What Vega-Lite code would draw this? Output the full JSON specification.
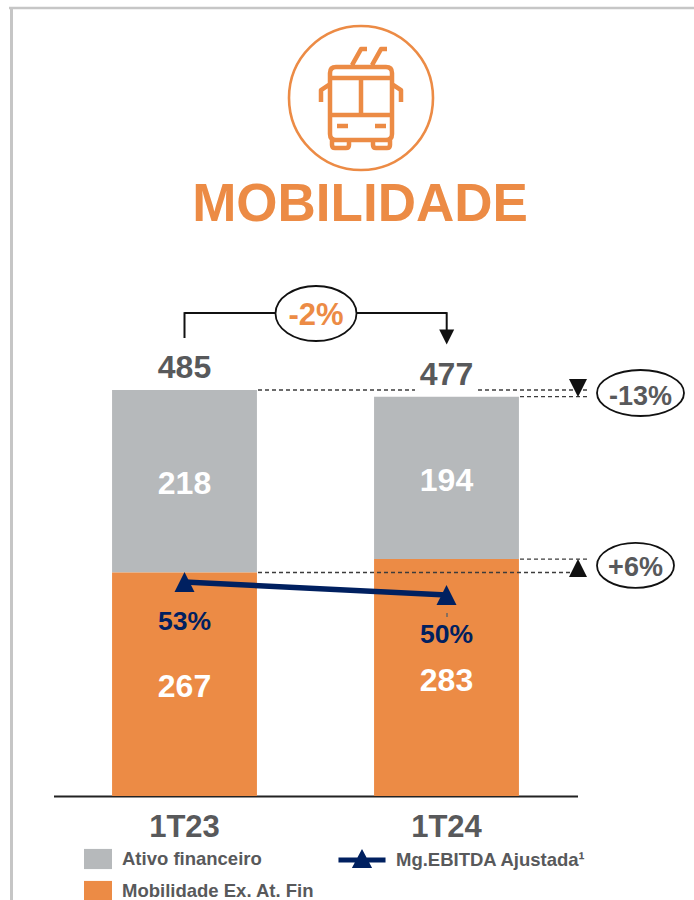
{
"$schema":"https://vega.github.io/schema/vega-lite/v6.json",
"width":694,"height":796,
"autosize":{"type":"none"},
"padding":{"left":0,"top":0,"right":0,"bottom":104},
"background":"white",
"config":{"view":{"stroke":null},"font":"Liberation Sans"},
"title":{"text":"MOBILIDADE","orient":"top","anchor":"middle","frame":"group","offset":0,"baseline":"alphabetic","dx":13,"dy":274,"font":"Liberation Sans","fontSize":53,"fontWeight":"bold","color":"#ec8b45"},
"datasets":{
"componentes":[
{"periodo":"1T23","componente":"Ativo financeiro","valor":218},
{"periodo":"1T23","componente":"Mobilidade Ex. At. Fin","valor":267},
{"periodo":"1T24","componente":"Ativo financeiro","valor":194},
{"periodo":"1T24","componente":"Mobilidade Ex. At. Fin","valor":283}],
"totais":[{"periodo":"1T23","total":485},{"periodo":"1T24","total":477}],
"margem":[{"periodo":"1T23","serie":"Mg.EBITDA Ajustada¹","margem":53,"rotulo":"53%"},{"periodo":"1T24","serie":"Mg.EBITDA Ajustada¹","margem":50,"rotulo":"50%"}]
},
"resolve":{"scale":{"x":"independent","y":"independent"}},
"layer":[
{"layer":[
{"data":{"name":"componentes"},"mark":{"type":"bar"},
"encoding":{
"x":{"field":"periodo","type":"nominal","title":null,"scale":{"domain":["1T23","1T24"],"range":[53.5,577.5],"paddingInner":0.447,"paddingOuter":0.2235},"axis":{"labelAngle":0,"domain":true,"domainColor":"#222222","domainWidth":2,"ticks":false,"labelPadding":16.5,"labelFont":"Liberation Sans","labelFontSize":31,"labelFontWeight":"bold","labelColor":"#58595b","grid":false}},
"y":{"field":"valor","type":"quantitative","stack":"zero","title":null,"scale":{"domain":[0,950.9],"nice":false},"axis":null},
"color":{"field":"componente","type":"nominal","scale":{"domain":["Ativo financeiro","Mobilidade Ex. At. Fin"],"range":["#b6b9bb","#ec8b45"]},
"legend":{"orient":"none","legendX":84,"legendY":845,"title":null,"symbolType":"M-1,-0.72H1V0.72H-1Z","symbolSize":784,"symbolStrokeWidth":0,"rowPadding":7,"labelOffset":10,"labelFont":"Liberation Sans","labelFontSize":18.5,"labelFontWeight":"bold","labelColor":"#58595b","labelLimit":400}}
}},
{"data":{"name":"componentes"},"mark":{"type":"text","font":"Liberation Sans","fontSize":32,"fontWeight":"bold","color":"white","baseline":"middle","dy":3},
"encoding":{
"x":{"field":"periodo","type":"nominal","title":null},
"y":{"field":"valor","type":"quantitative","stack":"zero","bandPosition":0.5,"scale":{"domain":[0,950.9],"nice":false},"axis":null},
"detail":{"field":"componente"},
"text":{"field":"valor","type":"quantitative"}
}},
{"data":{"name":"totais"},"mark":{"type":"text","font":"Liberation Sans","fontSize":32,"fontWeight":"bold","color":"#58595b","baseline":"alphabetic","dy":-12},
"encoding":{
"x":{"field":"periodo","type":"nominal","title":null},
"y":{"field":"total","type":"quantitative","scale":{"domain":[0,950.9],"nice":false},"axis":null},
"text":{"field":"total","type":"quantitative"}
}}
]},
{"data":{"values":[{}]},"layer":[
{"mark":{"type":"rule","color":"#c6c6c6","strokeWidth":2.5},"encoding":{"x":{"datum":9,"type":"quantitative","scale":{"domain":[0,694],"nice":false},"axis":null},"x2":{"datum":694},"y":{"datum":941.4,"type":"quantitative","scale":{"domain":[0,950.9],"nice":false},"axis":null}}},
{"mark":{"type":"rule","color":"#c6c6c6","strokeWidth":3},"encoding":{"x":{"datum":11.5,"type":"quantitative","scale":{"domain":[0,694],"nice":false},"axis":null},"y":{"datum":941.4,"type":"quantitative","scale":{"domain":[0,950.9],"nice":false},"axis":null},"y2":{"datum":-124.2}}},
{"mark":{"type":"point","filled":false,"stroke":"#ec8b45","strokeWidth":2.6,"size":4,"opacity":1,"shape":"M-72,0A72,72,0,1,1,72,0A72,72,0,1,1,-72,0Z"},"encoding":{"x":{"datum":361,"type":"quantitative","scale":{"domain":[0,694],"nice":false},"axis":null},"y":{"datum":833.8,"type":"quantitative","scale":{"domain":[0,950.9],"nice":false},"axis":null}}},
{"mark":{"type":"point","filled":false,"stroke":"#ec8b45","strokeWidth":4.5,"size":4,"opacity":1,"strokeJoin":"round","shape":"M-31,-25Q-31,-31,-25,-31H25Q31,-31,31,-25V36Q31,42,25,42H-25Q-31,42,-31,36ZM-31,-20H31M-31,17H31M0,-20V17M-24,28H-13M14,28H25M-29,42V47Q-29,50,-26,50H-15Q-12,50,-12,47V42M12,42V47Q12,50,15,50H26Q29,50,29,47V42M-31,-14L-40,-8V4M31,-14L40,-8V4M-9,-33L0,-49H6M11,-33L20,-49H26"},"encoding":{"x":{"datum":361,"type":"quantitative","scale":{"domain":[0,694],"nice":false},"axis":null},"y":{"datum":833.8,"type":"quantitative","scale":{"domain":[0,950.9],"nice":false},"axis":null}}},
{"mark":{"type":"rule","color":"#111111","strokeWidth":2},"encoding":{"x":{"datum":184.5,"type":"quantitative","scale":{"domain":[0,694],"nice":false},"axis":null},"x2":{"datum":446.7},"y":{"datum":577,"type":"quantitative","scale":{"domain":[0,950.9],"nice":false},"axis":null}}},
{"mark":{"type":"rule","color":"#111111","strokeWidth":2},"encoding":{"x":{"datum":184.5,"type":"quantitative","scale":{"domain":[0,694],"nice":false},"axis":null},"y":{"datum":578,"type":"quantitative","scale":{"domain":[0,950.9],"nice":false},"axis":null},"y2":{"datum":547.1}}},
{"mark":{"type":"rule","color":"#111111","strokeWidth":2},"encoding":{"x":{"datum":446.7,"type":"quantitative","scale":{"domain":[0,694],"nice":false},"axis":null},"y":{"datum":578,"type":"quantitative","scale":{"domain":[0,950.9],"nice":false},"axis":null},"y2":{"datum":556.7}}},
{"mark":{"type":"point","filled":true,"fill":"#111111","opacity":1,"shape":"M-1,-1L1,-1L0,1Z"},"encoding":{"x":{"datum":446.7,"type":"quantitative","scale":{"domain":[0,694],"nice":false},"axis":null},"y":{"datum":548.3,"type":"quantitative","scale":{"domain":[0,950.9],"nice":false},"axis":null},"size":{"value":225}}},
{"mark":{"type":"point","filled":true,"fill":"white","stroke":"#111111","strokeWidth":1.8,"opacity":1,"size":4,"shape":"M-40.5,0A40.5,27.5,0,1,1,40.5,0A40.5,27.5,0,1,1,-40.5,0Z"},"encoding":{"x":{"datum":316,"type":"quantitative","scale":{"domain":[0,694],"nice":false},"axis":null},"y":{"datum":576.4,"type":"quantitative","scale":{"domain":[0,950.9],"nice":false},"axis":null}}},
{"mark":{"type":"text","text":"-2%","font":"Liberation Sans","fontSize":31,"fontWeight":"bold","color":"#ec8b45","baseline":"alphabetic"},"encoding":{"x":{"datum":316,"type":"quantitative","scale":{"domain":[0,694],"nice":false},"axis":null},"y":{"datum":562.7,"type":"quantitative","scale":{"domain":[0,950.9],"nice":false},"axis":null}}},
{"mark":{"type":"rule","color":"#3c3c3c","strokeWidth":1.3,"strokeDash":[4,3]},"encoding":{"x":{"datum":258,"type":"quantitative","scale":{"domain":[0,694],"nice":false},"axis":null},"x2":{"datum":415},"y":{"datum":485,"type":"quantitative","scale":{"domain":[0,950.9],"nice":false},"axis":null}}},
{"mark":{"type":"rule","color":"#3c3c3c","strokeWidth":1.3,"strokeDash":[4,3]},"encoding":{"x":{"datum":478,"type":"quantitative","scale":{"domain":[0,694],"nice":false},"axis":null},"x2":{"datum":587},"y":{"datum":485,"type":"quantitative","scale":{"domain":[0,950.9],"nice":false},"axis":null}}},
{"mark":{"type":"rule","color":"#3c3c3c","strokeWidth":1.3,"strokeDash":[4,3]},"encoding":{"x":{"datum":520,"type":"quantitative","scale":{"domain":[0,694],"nice":false},"axis":null},"x2":{"datum":587},"y":{"datum":477,"type":"quantitative","scale":{"domain":[0,950.9],"nice":false},"axis":null}}},
{"mark":{"type":"rule","color":"#3c3c3c","strokeWidth":1.3,"strokeDash":[4,3]},"encoding":{"x":{"datum":520,"type":"quantitative","scale":{"domain":[0,694],"nice":false},"axis":null},"x2":{"datum":587},"y":{"datum":283,"type":"quantitative","scale":{"domain":[0,950.9],"nice":false},"axis":null}}},
{"mark":{"type":"rule","color":"#3c3c3c","strokeWidth":1.3,"strokeDash":[4,3]},"encoding":{"x":{"datum":258,"type":"quantitative","scale":{"domain":[0,694],"nice":false},"axis":null},"x2":{"datum":570},"y":{"datum":267,"type":"quantitative","scale":{"domain":[0,950.9],"nice":false},"axis":null}}},
{"mark":{"type":"rule","color":"#666666","strokeWidth":1.5},"encoding":{"x":{"datum":447,"type":"quantitative","scale":{"domain":[0,694],"nice":false},"axis":null},"y":{"datum":218.6,"type":"quantitative","scale":{"domain":[0,950.9],"nice":false},"axis":null},"y2":{"datum":213.8}}},
{"mark":{"type":"point","filled":true,"fill":"#111111","opacity":1,"shape":"M-1,-1L1,-1L0,1Z"},"encoding":{"x":{"datum":578,"type":"quantitative","scale":{"domain":[0,694],"nice":false},"axis":null},"y":{"datum":487.4,"type":"quantitative","scale":{"domain":[0,950.9],"nice":false},"axis":null},"size":{"value":324}}},
{"mark":{"type":"point","filled":true,"fill":"#111111","opacity":1,"shape":"M0,-1L1,1L-1,1Z"},"encoding":{"x":{"datum":578,"type":"quantitative","scale":{"domain":[0,694],"nice":false},"axis":null},"y":{"datum":272.4,"type":"quantitative","scale":{"domain":[0,950.9],"nice":false},"axis":null},"size":{"value":324}}},
{"mark":{"type":"point","filled":true,"fill":"white","stroke":"#111111","strokeWidth":1.8,"opacity":1,"size":4,"shape":"M-43.5,0A43.5,23,0,1,1,43.5,0A43.5,23,0,1,1,-43.5,0Z"},"encoding":{"x":{"datum":640.5,"type":"quantitative","scale":{"domain":[0,694],"nice":false},"axis":null},"y":{"datum":481.4,"type":"quantitative","scale":{"domain":[0,950.9],"nice":false},"axis":null}}},
{"mark":{"type":"text","text":"-13%","font":"Liberation Sans","fontSize":27,"fontWeight":"bold","color":"#58595b","baseline":"alphabetic"},"encoding":{"x":{"datum":640.5,"type":"quantitative","scale":{"domain":[0,694],"nice":false},"axis":null},"y":{"datum":467.1,"type":"quantitative","scale":{"domain":[0,950.9],"nice":false},"axis":null}}},
{"mark":{"type":"point","filled":true,"fill":"white","stroke":"#111111","strokeWidth":1.8,"opacity":1,"size":4,"shape":"M-38.5,0A38.5,22.5,0,1,1,38.5,0A38.5,22.5,0,1,1,-38.5,0Z"},"encoding":{"x":{"datum":635.5,"type":"quantitative","scale":{"domain":[0,694],"nice":false},"axis":null},"y":{"datum":275.4,"type":"quantitative","scale":{"domain":[0,950.9],"nice":false},"axis":null}}},
{"mark":{"type":"text","text":"+6%","font":"Liberation Sans","fontSize":27,"fontWeight":"bold","color":"#58595b","baseline":"alphabetic"},"encoding":{"x":{"datum":635.5,"type":"quantitative","scale":{"domain":[0,694],"nice":false},"axis":null},"y":{"datum":262.8,"type":"quantitative","scale":{"domain":[0,950.9],"nice":false},"axis":null}}}
]},
{"data":{"name":"margem"},"layer":[
{"mark":{"type":"line","color":"#002060","strokeWidth":5.5},
"encoding":{
"x":{"field":"periodo","type":"nominal","scale":{"domain":["1T23","1T24"],"range":[53.5,577.5],"paddingInner":0.447,"paddingOuter":0.2235},"axis":null},
"y":{"field":"margem","type":"quantitative","scale":{"domain":[3.6,187.3],"nice":false,"zero":false},"axis":null}
}},
{"mark":{"type":"point","filled":true,"opacity":1,"size":400,"shape":"M0,-1L1,1L-1,1Z"},
"encoding":{
"x":{"field":"periodo","type":"nominal","scale":{"domain":["1T23","1T24"],"range":[53.5,577.5],"paddingInner":0.447,"paddingOuter":0.2235},"axis":null},
"y":{"field":"margem","type":"quantitative","scale":{"domain":[3.6,187.3],"nice":false,"zero":false},"axis":null},
"fill":{"field":"serie","type":"nominal","scale":{"range":["#002060"]},
"legend":{"orient":"none","legendX":338,"legendY":836,"title":null,"symbolType":"M-0.98,-0.1L-0.19,-0.1L0,-0.46L0.19,-0.1L0.98,-0.1L0.98,0.1L0.3,0.1L0.42,0.33L-0.42,0.33L-0.3,0.1L-0.98,0.1Z","symbolSize":2304,"symbolStrokeWidth":0,"labelOffset":10,"labelFont":"Liberation Sans","labelFontSize":18.5,"labelFontWeight":"bold","labelColor":"#58595b","labelLimit":400}}
}},
{"mark":{"type":"text","font":"Liberation Sans","fontSize":26.5,"fontWeight":"bold","color":"#002060","baseline":"alphabetic","dy":48},
"encoding":{
"x":{"field":"periodo","type":"nominal","scale":{"domain":["1T23","1T24"],"range":[53.5,577.5],"paddingInner":0.447,"paddingOuter":0.2235},"axis":null},
"y":{"field":"margem","type":"quantitative","scale":{"domain":[3.6,187.3],"nice":false,"zero":false},"axis":null},
"text":{"field":"rotulo","type":"nominal"}
}}
]}
]
}
